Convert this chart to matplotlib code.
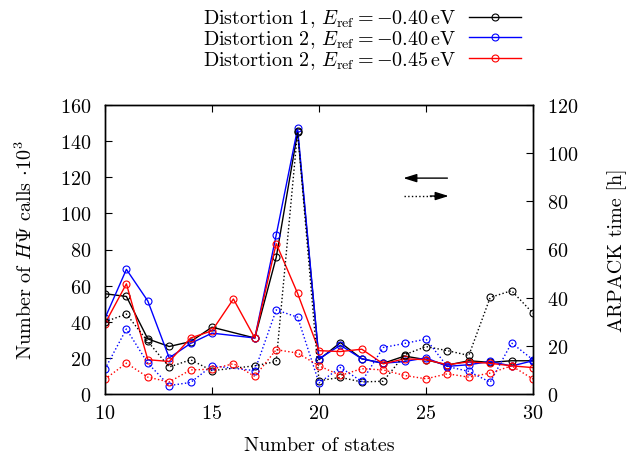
import numpy as np
import matplotlib
matplotlib.use("Agg")
import matplotlib.pyplot as plt
from matplotlib.lines import Line2D

plt.rcParams['font.family'] = ['cmr10', 'DejaVu Serif']
plt.rcParams['mathtext.fontset'] = 'cm'
plt.rcParams['axes.formatter.use_mathtext'] = True
plt.rcParams['axes.unicode_minus'] = False

# ---- data ----
states_a = [10, 11, 12, 13, 14, 15, 17, 18, 19, 20, 21, 22, 23, 24, 25, 26, 27, 28, 29, 30]
states_b = [10, 11, 12, 13, 14, 15, 16, 17, 18, 19, 20, 21, 22, 23, 24, 25, 26, 27, 28, 29, 30]

calls_d1 = [55.5, 54, 30.5, 26.3, 29, 37, 31, 75.6, 145, 19, 28.5, 19.5, 17, 21, 19, 16, 18.4, 17.5, 18.4, 18.4]
calls_d2a = [42, 69, 51.5, 20, 28, 33.7, 31, 88, 147, 19.5, 27, 19.5, 17, 18, 20, 15.3, 16.2, 18, 15.5, 18.4]
calls_d2b = [39, 61, 19, 18, 31, 35, 52.6, 31, 83.3, 55.7, 24, 23.5, 24.8, 16.7, 19.5, 19, 16.2, 17.8, 17, 15.6, 14.6]

time_d1 = [30, 33.2, 21.8, 11.2, 14.2, 9.7, 11.7, 13.5, 109, 5.5, 6.9, 5, 5.3, 16.3, 19.7, 18, 16, 40.1, 42.9, 33.5]
time_d2a = [10.4, 27, 12.8, 3.5, 4.8, 11.7, 9.7, 34.9, 31.9, 4.6, 11, 5.2, 19.3, 21, 22.8, 11.4, 9.4, 4.9, 21.2, 14.2]
time_d2b = [6.2, 12.8, 7, 5, 10, 10.3, 12.6, 7.3, 18.4, 17, 11.7, 7.7, 10.5, 10, 7.7, 6.3, 8.4, 7, 8.7, 11.7, 6.2]

labels = [r"Distortion 1, $E_\mathrm{ref} = -0.40\,\mathrm{eV}$",
          r"Distortion 2, $E_\mathrm{ref} = -0.40\,\mathrm{eV}$",
          r"Distortion 2, $E_\mathrm{ref} = -0.45\,\mathrm{eV}$"]
colors = ['black', 'blue', 'red']

FS = 14.5

fig = plt.figure(figsize=(6.31, 4.56), dpi=100)
ax = fig.add_axes([105/631, 1-395/456, (533-105)/631, (395-106)/456])
ax2 = ax.twinx()

mk = dict(marker='o', markersize=5, markerfacecolor='none', markeredgewidth=0.8)

ax.plot(states_a, calls_d1, color=colors[0], lw=1, **mk)
ax.plot(states_a, calls_d2a, color=colors[1], lw=1, **mk)
ax.plot(states_b, calls_d2b, color=colors[2], lw=1, **mk)

ax2.plot(states_a, time_d1, color=colors[0], lw=1, ls=':', **mk)
ax2.plot(states_a, time_d2a, color=colors[1], lw=1, ls=':', **mk)
ax2.plot(states_b, time_d2b, color=colors[2], lw=1, ls=':', **mk)

ax.set_xlim(10, 30)
ax.set_ylim(0, 160)
ax2.set_ylim(0, 120)
ax.set_xticks([10, 15, 20, 25, 30])
ax.set_yticks(np.arange(0, 161, 20))
ax2.set_yticks(np.arange(0, 121, 20))

ax.tick_params(axis='x', direction='in', top=True, length=5, width=0.8, labelsize=FS, pad=7)
ax.tick_params(axis='y', direction='in', right=False, length=5, width=0.8, labelsize=FS, pad=10)
ax2.tick_params(axis='y', direction='in', length=5, width=0.8, labelsize=FS, pad=10)
for a in (ax, ax2):
    for s in a.spines.values():
        s.set_linewidth(1.0)

ax.set_xlabel("Number of states", fontsize=FS, labelpad=10)
ax.set_ylabel(r"Number of $H\Psi$ calls $\cdot 10^3$", fontsize=FS, labelpad=17)
ax2.set_ylabel("ARPACK time [h]", fontsize=FS, labelpad=21)

# arrow key
ax.annotate("", xy=(0.697, 0.747), xytext=(0.800, 0.747), xycoords='axes fraction',
            arrowprops=dict(arrowstyle='-|>,head_length=0.8,head_width=0.25', color='black', lw=1.0,
                            shrinkA=0, shrinkB=0))
ax.add_line(Line2D([0.699, 0.77], [0.685, 0.685], transform=ax.transAxes, color='black', lw=1.0, ls=':'))
ax.annotate("", xy=(0.803, 0.685), xytext=(0.76, 0.685), xycoords='axes fraction',
            arrowprops=dict(arrowstyle='-|>,head_length=0.8,head_width=0.25', color='black', lw=1.0,
                            shrinkA=0, shrinkB=0))

handles = [Line2D([], [], color=c, lw=1, **mk) for c in colors]
fig.legend(handles, labels, loc='upper right', bbox_to_anchor=(0.826, 0.981),
           frameon=False, markerfirst=False, numpoints=1, handlelength=2.6,
           labelspacing=-0.05, fontsize=FS, borderpad=0, borderaxespad=0, handletextpad=0.6)

fig.savefig("out.png", dpi=100)
